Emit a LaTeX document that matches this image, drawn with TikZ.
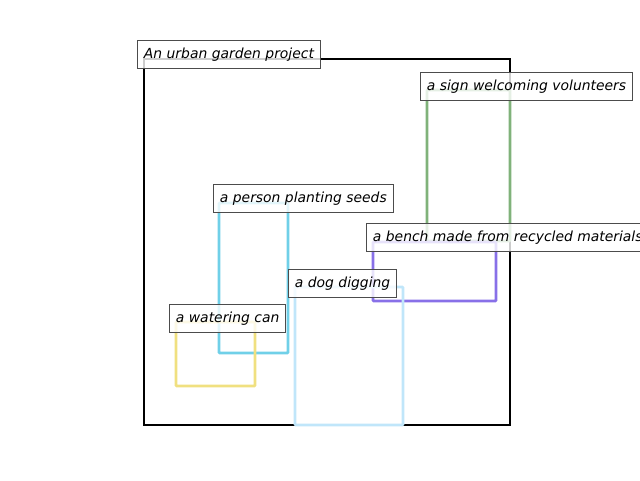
\documentclass[tikz,border=0pt]{standalone}
\usepackage{fontspec}
\setmainfont{DejaVu Sans}
\begin{document}
\begin{tikzpicture}[x=1pt,y=-1pt,
  region/.style={line width=2.6pt, rounded corners=0.8pt},
  lbl/.style={draw=black!70, line width=0.9pt, fill=white, fill opacity=0.8, text opacity=1,
    anchor=west, inner xsep=6.5pt, inner ysep=0pt, minimum height=28pt,
    text height=10.5pt, text depth=1.5pt,
    font=\fontsize{13.9}{16}\selectfont\itshape}]
\definecolor{cgreen}{RGB}{128,178,122}
\definecolor{ccyan}{RGB}{112,208,232}
\definecolor{cpurple}{RGB}{136,112,232}
\definecolor{clblue}{RGB}{192,230,250}
\definecolor{cyellow}{RGB}{240,224,128}
\useasboundingbox (0,0) rectangle (640,480);
\clip (0,0) rectangle (640,480);
% regions
\draw[region, black, line width=2.6pt, rounded corners=0pt] (144,59) rectangle (510,425);
\draw[region, cgreen] (427,90) rectangle (510,241);
\draw[region, ccyan] (219,203) rectangle (288,353);
\draw[region, cpurple] (373,242) rectangle (496,301);
\draw[region, clblue] (295,287) rectangle (403,425);
\draw[region, cyellow] (176,322) rectangle (255,386);
% labels
\node[lbl] (urban) at (137,54) {An urban garden project};
\node[lbl] (sign) at (420,86) {a sign welcoming volunteers};
\node[lbl] (person) at (213,198) {a person planting seeds};
\node[lbl] (bench) at (366,237) {a bench made from recycled materials};
\node[lbl] (dog) at (288,283) {a dog digging};
\node[lbl] (water) at (169,318) {a watering can};
\end{tikzpicture}
\end{document}
